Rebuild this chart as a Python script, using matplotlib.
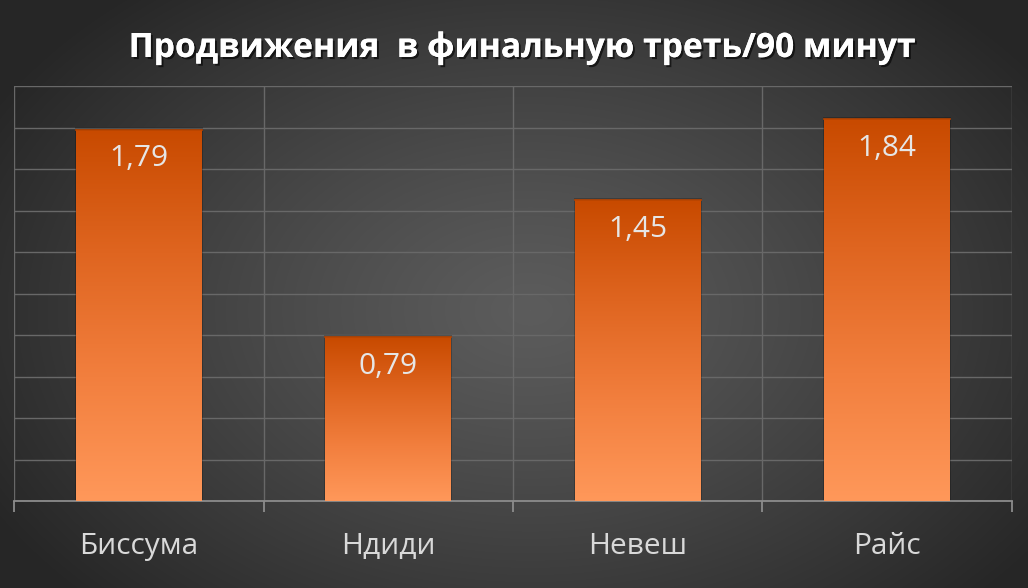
import numpy as np
import matplotlib
matplotlib.use("Agg")
import matplotlib.pyplot as plt
import matplotlib.patheffects as pe
from matplotlib.colors import LinearSegmentedColormap

categories = ["Биссума", "Ндиди", "Невеш", "Райс"]
values = [1.79, 0.79, 1.45, 1.84]
value_labels = ["1,79", "0,79", "1,45", "1,84"]
title = "Продвижения  в финальную треть/90 минут"

W, H = 1028, 588
fig = plt.figure(figsize=(W / 100, H / 100), dpi=100)

# radial background
bg = fig.add_axes([0, 0, 1, 1])
yy, xx = np.mgrid[0:H, 0:W]
cx, cy = 530, 310
r = np.sqrt(((xx - cx) / 620.0) ** 2 + ((yy - cy) / 420.0) ** 2)
r = np.clip(r, 0, 1)
light, dark = 0x5c, 0x26
val = (light - (light - dark) * r ** 1.2) / 255.0
img = np.dstack([val, val, val])
bg.imshow(img, extent=[0, 1, 0, 1], aspect="auto", origin="upper")
bg.axis("off")

left, right, bottom, top = 14, 1012, 501, 86
ax = fig.add_axes([left / W, (H - bottom) / H, (right - left) / W, (bottom - top) / H])
ax.patch.set_alpha(0)
ax.set_xlim(-0.5, len(categories) - 0.5)
ax.set_ylim(0, 2.0)
ax.set_yticks(np.arange(0, 2.01, 0.2))
ax.yaxis.grid(True, color="#686868", lw=1)
ax.set_xticks(np.arange(-0.5, len(categories), 1.0), minor=False)
ax.set_xticklabels([])
ax.xaxis.grid(True, color="#686868", lw=1)
ax.set_axisbelow(True)
for s in ["top", "right", "left"]:
    ax.spines[s].set_visible(False)
ax.spines["bottom"].set_color("#8c8c8c")
ax.spines["bottom"].set_linewidth(1.3)
ax.tick_params(axis="y", left=False, labelleft=False)
ax.tick_params(axis="x", length=8, color="#8c8c8c", width=1.3)

cmap = LinearSegmentedColormap.from_list(
    "bar", ["#c84a00", "#df6520", "#f27f3e", "#ff985a"])
bw = 0.505
grad = np.linspace(0, 1, 256).reshape(-1, 1)
for i, v in enumerate(values):
    x0 = i - bw / 2
    # soft shadow
    ax.bar(i, v + 0.012, width=bw + 0.01, bottom=0, color="black",
           alpha=0.22, zorder=2, lw=0)
    rect = ax.bar(i, v, width=bw, color="none", lw=0, zorder=3)[0]
    im = ax.imshow(grad, extent=[x0, x0 + bw, 0, v], cmap=cmap, aspect="auto",
                   origin="upper", zorder=3)
    im.set_clip_path(rect)
    ax.plot([x0, x0 + bw], [v, v], color="#b84400", lw=1.2, zorder=4)
    ax.text(i, v - 0.14, value_labels[i], ha="center", va="center",
            fontsize=21.5, color="#e6e6e6", family="Open Sans", zorder=5)
    ax.text(i, -0.22, categories[i], ha="center", va="center",
            fontsize=21.5, color="#d9d9d9", family="Open Sans", zorder=5,
            clip_on=False)
ax.set_xlim(-0.5, len(categories) - 0.5)
ax.set_ylim(0, 2.0)

fig.text(0.508, (H - 48) / H, title, ha="center", va="center", fontsize=24.2,
         fontweight="bold", color="white", family="Open Sans",
         path_effects=[pe.withSimplePatchShadow(offset=(1.5, -1.5), alpha=0.6,
                                                 shadow_rgbFace="black"),
                       pe.Normal()])

fig.savefig("out.png", dpi=100)
